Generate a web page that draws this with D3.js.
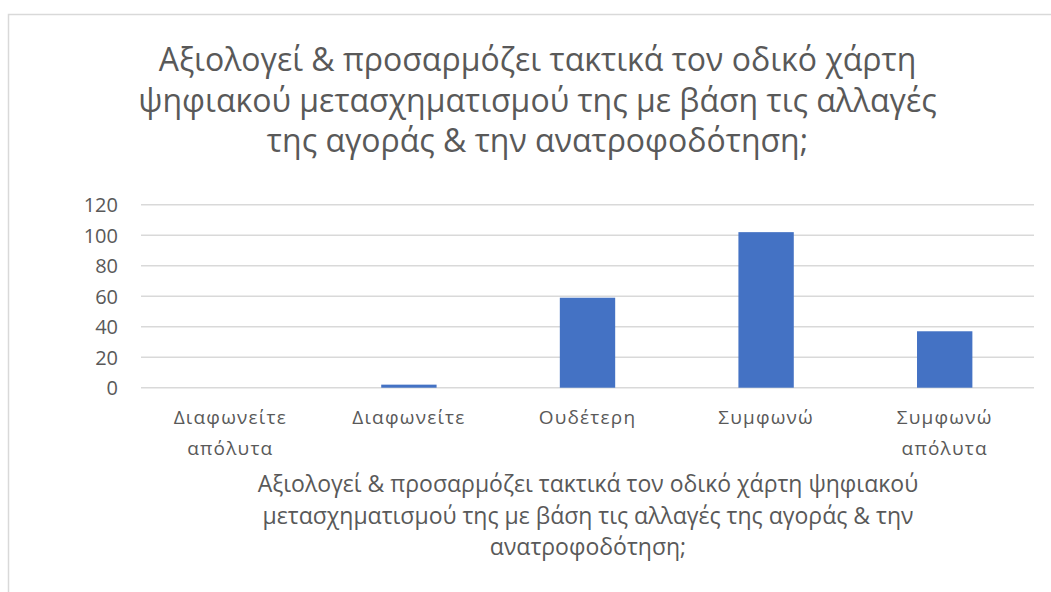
<!DOCTYPE html>
<html><head><meta charset="utf-8">
<script src="https://cdn.jsdelivr.net/npm/d3@7"></script>
<style>body{margin:0;background:#fff}svg{display:block}</style>
</head><body>
<svg id="chart" width="1051" height="592"></svg>
<script>
const categories = [["Διαφωνείτε","απόλυτα"],["Διαφωνείτε"],["Ουδέτερη"],["Συμφωνώ"],["Συμφωνώ","απόλυτα"]];
const values = [0, 2, 59, 102, 37];
const yTicks = [0, 20, 40, 60, 80, 100, 120];
const titleLines = ["Αξιολογεί & προσαρμόζει τακτικά τον οδικό χάρτη","ψηφιακού μετασχηματισμού της με βάση τις αλλαγές","της αγοράς & την ανατροφοδότηση;"];
const axisTitleLines = ["Αξιολογεί & προσαρμόζει τακτικά τον οδικό χάρτη ψηφιακού","μετασχηματισμού της με βάση τις αλλαγές της αγοράς & την","ανατροφοδότηση;"];

const svg = d3.select("#chart");
const textColor = "#595959";
const font = "'Open Sans', 'Noto Sans', sans-serif";

svg.append("rect").attr("x",8.5).attr("y",14.5).attr("width",1100).attr("height",700)
  .attr("fill","#fff").attr("stroke","#d9d9d9").attr("stroke-width",1.5);

const pLeft = 141, pRight = 1034, pTop = 204.7, pBottom = 387.7;
const x = d3.scaleBand().domain(d3.range(values.length)).range([pLeft,pRight]).paddingInner(0.69).paddingOuter(0.345);
const y = d3.scaleLinear().domain([0,120]).range([pBottom,pTop]);

// gridlines
svg.append("g").selectAll("line").data(yTicks).join("line")
  .attr("x1",pLeft).attr("x2",pRight).attr("y1",d=>y(d)).attr("y2",d=>y(d))
  .attr("stroke","#d9d9d9").attr("stroke-width",1.5);

// y axis
const yAxis = svg.append("g").attr("transform",`translate(${pLeft},0)`)
  .call(d3.axisLeft(y).tickValues(yTicks).tickSize(0).tickPadding(23));
yAxis.select(".domain").remove();
yAxis.selectAll("text").attr("fill",textColor).attr("font-family",font).attr("font-size",20).attr("dy","0.35em");

// bars
svg.append("g").selectAll("rect").data(values).join("rect")
  .attr("x",(d,i)=>x(i)).attr("width",x.bandwidth())
  .attr("y",d=>y(d)).attr("height",d=>pBottom-y(d))
  .attr("fill","#4472C4");

// category labels
const band = d3.scaleBand().domain(d3.range(values.length)).range([pLeft,pRight]);
const cg = svg.append("g");
categories.forEach((lines,i)=>{
  const cx = band(i)+band.bandwidth()/2;
  const t = cg.append("text").attr("text-anchor","middle").attr("fill",textColor)
    .attr("font-family",font).attr("font-size",19).attr("letter-spacing",1.2);
  lines.forEach((l,j)=>t.append("tspan").attr("x",cx).attr("y",423.5+j*31).text(l));
});

// chart title
const tt = svg.append("text").attr("text-anchor","middle").attr("fill",textColor)
  .attr("font-family",font).attr("font-size",32);
titleLines.forEach((l,j)=>tt.append("tspan").attr("x",537.5).attr("y",71+j*40.5).text(l));

// axis title
const at = svg.append("text").attr("text-anchor","middle").attr("fill",textColor)
  .attr("font-family",font).attr("font-size",23);
axisTitleLines.forEach((l,j)=>at.append("tspan").attr("x",588).attr("y",492+j*31.5).text(l));
</script>
</body></html>
